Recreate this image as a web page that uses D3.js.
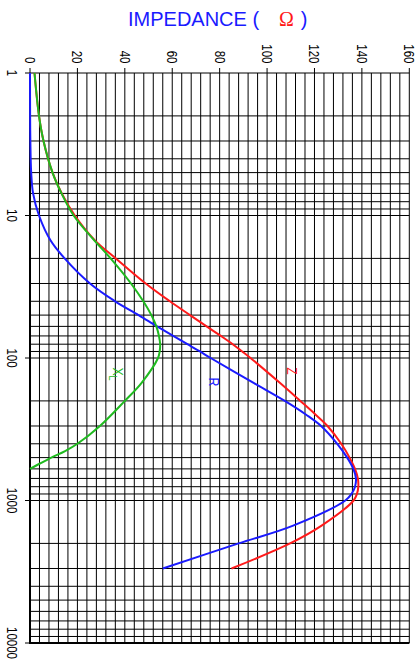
<!DOCTYPE html>
<html>
<head>
<meta charset="utf-8">
<script src="https://cdn.jsdelivr.net/npm/d3@7/dist/d3.min.js"></script>
<style>
  html, body { margin: 0; padding: 0; background: #fff; }
  svg { display: block; }
</style>
</head>
<body>
<script>
// ---- data (frequency in Hz, impedance in ohms) ----
const freqXL = [1, 2, 3, 5, 7, 10, 15, 20, 30, 40, 50, 60, 70, 80, 90, 100, 150, 200, 300, 400, 450, 500, 550, 600];
const valXL  = [1.9, 3.8, 5.7, 9.5, 13.3, 18.4, 27.2, 34, 42.6, 47.8, 51.2, 53.3, 54.4, 54.9, 54.7, 54, 47, 40, 29.5, 20, 14.8, 9, 4.2, 0];

const freqRZ = [1, 2, 3, 5, 7, 10, 15, 20, 30, 40, 50, 60, 70, 80, 90, 100, 150, 200, 250, 300, 400, 500, 600, 700, 800, 900, 1000, 1500, 2000, 3000];
const valR   = [0, 0.05, 0.15, 0.5, 1.3, 3.8, 8.7, 14.6, 25.3, 35.9, 45.8, 53.6, 60.4, 66.4, 71.7, 76.2, 94.5, 107.5, 116.5, 122.8, 129.6, 133.8, 136.4, 137.5, 137.1, 135.6, 133, 111, 88, 56];
const valZ   = [1.9, 3.8, 5.7, 9.5, 13.4, 18.9, 27.5, 36.2, 48.8, 59, 67.5, 74.5, 80.5, 85.5, 89.5, 93, 105.5, 114, 120.5, 125.5, 131.3, 134.8, 137.1, 138.3, 138.5, 137.9, 136.5, 123, 109.7, 85];

const impTicks  = [0, 20, 40, 60, 80, 100, 120, 140, 160];
const freqTicks = [1, 10, 100, 1000, 10000];

const W = 418, H = 664;
const svg = d3.select("body").append("svg").attr("width", W).attr("height", H);

const x = d3.scaleLinear().domain([0, 160]).range([30, 409.3]);
const y = d3.scaleLog().domain([1, 10000]).range([73, 643]);

// ---- title ----
const tFont = "'Liberation Sans', Arial, sans-serif";
svg.append("text").attr("x", 128).attr("y", 26)
  .attr("font-family", tFont).attr("font-size", 20).attr("fill", "#1a1aff")
  .text("IMPEDANCE (");
svg.append("text").attr("x", 286.5).attr("y", 25.5).attr("text-anchor", "middle")
  .attr("font-family", "'Liberation Serif', serif").attr("font-size", 20).attr("fill", "#ff1a1a")
  .text("Ω");
svg.append("text").attr("x", 307.5).attr("y", 26).attr("text-anchor", "end")
  .attr("font-family", tFont).attr("font-size", 20).attr("fill", "#1a1aff")
  .text(")");

// ---- grid ----
const grid = svg.append("g").attr("stroke", "#000").attr("stroke-width", 1);
grid.selectAll("line.v").data(d3.range(0, 161, 4)).join("line")
  .attr("class", "v")
  .attr("x1", d => x(d)).attr("x2", d => x(d))
  .attr("y1", y(1)).attr("y2", y(10000));
grid.selectAll("line.h").data(y.ticks()).join("line")
  .attr("class", "h")
  .attr("x1", x(0)).attr("x2", x(160))
  .attr("y1", d => y(d)).attr("y2", d => y(d));

// ---- borders ----
svg.append("line").attr("x1", x(0)).attr("x2", x(0)).attr("y1", y(1)).attr("y2", y(10000) + 1)
  .attr("stroke", "#000").attr("stroke-width", 2);
svg.append("line").attr("x1", x(0) - 1).attr("x2", x(160)).attr("y1", y(10000)).attr("y2", y(10000))
  .attr("stroke", "#000").attr("stroke-width", 2);

// ---- top axis ticks & labels ----
svg.selectAll("line.tt").data(impTicks).join("line")
  .attr("x1", d => x(d)).attr("x2", d => x(d))
  .attr("y1", y(1) - 5).attr("y2", y(1))
  .attr("stroke", "#000");
svg.selectAll("text.tl").data(impTicks).join("text")
  .attr("transform", d => `translate(${x(d) - 5},63.5) rotate(90) scale(0.82,1)`)
  .attr("text-anchor", "end")
  .attr("font-family", tFont)
  .attr("font-size", 14)
  .attr("fill", "#000")
  .text(d => d);

// ---- left axis ticks & labels ----
svg.selectAll("line.lt").data(freqTicks).join("line")
  .attr("x1", x(0) - 5).attr("x2", x(0))
  .attr("y1", d => y(d)).attr("y2", d => y(d))
  .attr("stroke", "#000");
svg.selectAll("text.ll").data(freqTicks).join("text")
  .attr("transform", d => `translate(6.5,${y(d)}) rotate(90) scale(0.82,1)`)
  .attr("text-anchor", "middle")
  .attr("font-family", tFont)
  .attr("font-size", 14)
  .attr("fill", "#000")
  .text(d => d);

// ---- curves ----
const line = d3.line().curve(d3.curveCatmullRom.alpha(0.5));
function draw(freqs, vals, color) {
  const pts = freqs.map((f, i) => [x(vals[i]), y(f)]);
  svg.append("path").attr("d", line(pts))
    .attr("fill", "none").attr("stroke", color).attr("stroke-width", 2);
}
draw(freqRZ, valZ, "#ff1a1a");
draw(freqRZ, valR, "#1a1aff");
draw(freqXL, valXL, "#1fba1f");

// ---- curve labels ----
function lab(px, py, txt, color, size) {
  return svg.append("text")
    .attr("transform", `translate(${px},${py}) rotate(90) scale(0.82,1)`)
    .attr("text-anchor", "middle")
    .attr("font-family", tFont)
    .attr("font-size", size)
    .attr("fill", color)
    .text(txt);
}
lab(287, 371, "Z", "#ff1a1a", 15);
lab(209, 382, "R", "#1a1aff", 15);
const xl = svg.append("text")
  .attr("transform", `translate(113,374) rotate(90) scale(0.82,1)`)
  .attr("text-anchor", "middle")
  .attr("font-family", tFont)
  .attr("font-size", 15)
  .attr("fill", "#1fba1f");
xl.append("tspan").text("X");
xl.append("tspan").attr("font-size", 11).attr("dy", 4).text("L");
</script>
</body>
</html>
